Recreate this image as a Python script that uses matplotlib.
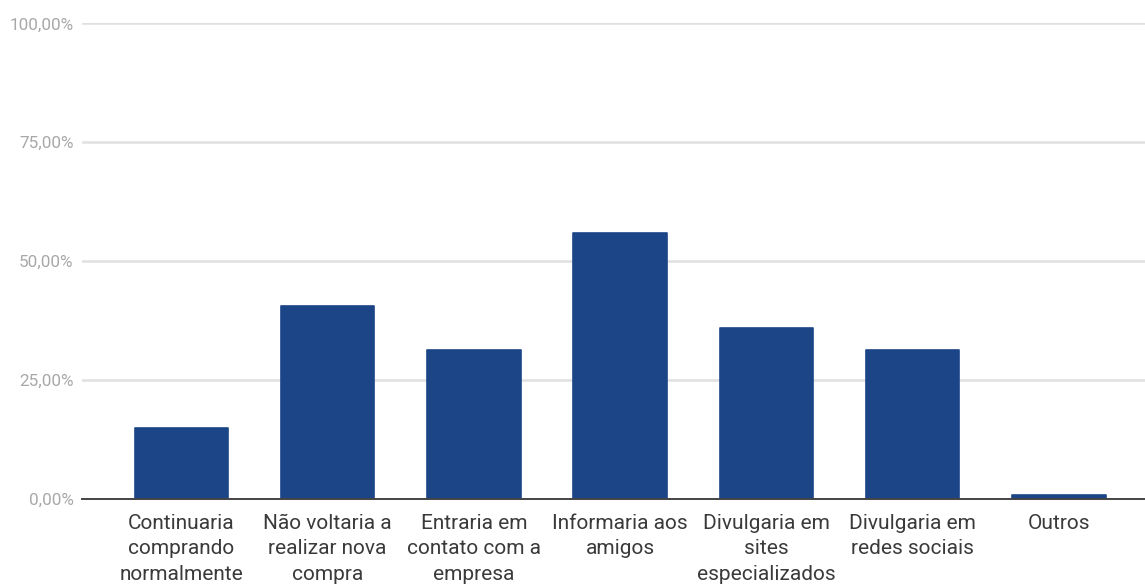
import matplotlib
matplotlib.use("Agg")
import matplotlib.pyplot as plt
from matplotlib.ticker import FuncFormatter

plt.rcParams['font.family'] = ['Roboto', 'DejaVu Sans']

categories = [
    "Continuaria\ncomprando\nnormalmente",
    "Não voltaria a\nrealizar nova\ncompra",
    "Entraria em\ncontato com a\nempresa",
    "Informaria aos\namigos",
    "Divulgaria em\nsites\nespecializados",
    "Divulgaria em\nredes sociais",
    "Outros",
]
values = [14.8, 40.6, 31.2, 55.9, 35.9, 31.2, 0.8]
y_ticks = [0, 25, 50, 75, 100]

bar_color = "#1c4587"

fig = plt.figure(figsize=(11.45, 5.84), dpi=100)
ax = fig.add_axes([0.0716, 0.146, 0.940, 0.814])

x = list(range(len(categories)))
ax.bar(x, values, width=0.64, color=bar_color, edgecolor=bar_color,
       linewidth=1.2, joinstyle='round', zorder=3)

ax.set_xlim(-0.68, len(categories) - 1 + 0.68)
ax.set_ylim(0, 100)
ax.set_yticks(y_ticks)
ax.yaxis.set_major_formatter(FuncFormatter(lambda v, p: f"{v:.2f}%".replace('.', ',')))
ax.grid(axis='y', color='#e0e0e0', linewidth=1.8, zorder=0)
ax.set_axisbelow(True)

for side in ('top', 'right', 'left'):
    ax.spines[side].set_visible(False)
ax.spines['bottom'].set_color('#444444')
ax.spines['bottom'].set_linewidth(1.4)
ax.spines['bottom'].set_zorder(4)

ax.set_xticks(x)
ax.set_xticklabels(categories, fontsize=15, color='#3a3a3a', linespacing=1.43,
                   va='top')
ax.tick_params(axis='x', length=0, pad=11)
ax.tick_params(axis='y', length=0, pad=6, labelsize=12.3, labelcolor='#a8a8a8')

fig.savefig("out.png", dpi=100, facecolor='white')
